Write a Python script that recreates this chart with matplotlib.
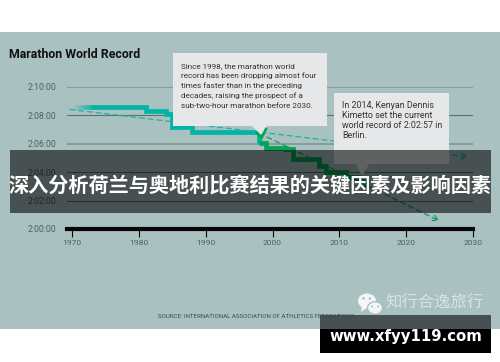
import numpy as np
import matplotlib
matplotlib.use("Agg")
import matplotlib.pyplot as plt
from matplotlib.patches import Rectangle, Polygon, Ellipse

# data
years = [1969, 1981, 1984, 1985, 1988, 1998, 1999, 2002, 2003, 2007, 2008, 2011, 2013, 2014]
records = ["2:08:34", "2:08:18", "2:08:05", "2:07:12", "2:06:50", "2:06:05", "2:05:42",
           "2:05:38", "2:04:55", "2:04:26", "2:03:59", "2:03:38", "2:03:23", "2:02:57"]
old_trend_years = [1969.7, 2029.3]
old_trend_times = ["2:08:25", "2:05:04"]
new_trend_years = [1998, 2025]
new_trend_times = ["2:06:45", "2:00:34"]
tick_years = [1970, 1980, 1990, 2000, 2010, 2020, 2030]
tick_times = ["2:00:00", "2:02:00", "2:04:00", "2:06:00", "2:08:00", "2:10:00"]

note_one = ["Since 1998, the marathon world", "record has been dropping almost four",
            "times faster than in the preceding", "decades, raising the prospect of a",
            "sub-two-hour marathon before 2030."]
note_two = ["In 2014, Kenyan Dennis", "Kimetto set the current",
            "world record of 2:02:57 in", "Berlin."]
banner = "深入分析荷兰与奥地利比赛结果的关键因素及影响因素"

BG = "#a9c1c1"
TEAL = "#00b5a5"
GREEN = "#00a651"
NOTE = "#e6e7e8"
W, H = 500, 362


def to_sec(t):
    h, m, s = t.split(":")
    return int(h) * 3600 + int(m) * 60 + int(s)


plt.rcParams["font.family"] = ["Roboto", "DejaVu Sans"]
fig = plt.figure(figsize=(W / 100, H / 100), dpi=100, facecolor="white")

# whole picture in pixels, for the page furniture
page = fig.add_axes([0, 0, 1, 1], zorder=0)
page.set_xlim(0, W)
page.set_ylim(H, 0)
page.axis("off")
page.add_patch(Rectangle((0, 32), W, 297, color=BG, lw=0))

# chart axes: 2:00:00 at y=229, 2:10:00 at y=87, 1970 at x=72, 2030 at x=473
ax = fig.add_axes([67 / W, 1 - 229 / H, 406 / W, 142 / H], zorder=1)
ax.patch.set_alpha(0)
ax.set_xlim(1970 - 5 / 6.683, 2030)
ax.set_ylim(to_sec("2:00:00"), to_sec("2:10:00"))
for s in ax.spines.values():
    s.set_visible(False)
yticks = [to_sec(t) for t in tick_times]
for i, y in enumerate(yticks):
    if i == 0:
        continue
    if tick_times[i] in ("2:10:00", "2:06:00"):
        ax.axhline(y, color="#7f9596", lw=1.2, zorder=1)
    else:
        ax.axhline(y, color="#5f7072", lw=0.8, zorder=1)
ax.axhline(yticks[0], color="#050505", lw=3, zorder=5, clip_on=False)
ax.set_yticks(yticks)
ax.set_yticklabels(tick_times, color="#555f60", fontsize=6.3)
ax.set_xticks(tick_years)
ax.set_xticklabels(tick_years, color="#555f60", fontsize=6.1)
ax.tick_params(axis="y", length=0, pad=8)
ax.tick_params(axis="x", length=5.5, width=0.8, color="#050505", pad=2.5)

secs = [to_sec(t) for t in records]
stages = [(1969, 1998, TEAL), (1998, 2014, GREEN)]
for x0, x1, col in stages:
    xs = [x for x in years if x0 <= x <= x1]
    ys = [secs[years.index(x)] for x in xs]
    ax.step(xs, ys, where="post", color=col, lw=3.4, zorder=3,
            solid_joinstyle="miter", solid_capstyle="butt")

# fade out the start of the line into the background
fade = np.zeros((1, 64, 4))
fade[..., :3] = matplotlib.colors.to_rgb(BG)
fade[..., 3] = np.clip(np.linspace(1.4, 0, 64), 0, 1)
ax.imshow(fade, extent=(1969, 1973.2, to_sec("2:08:20"), to_sec("2:08:50")),
          aspect="auto", zorder=3.5)
ax.set_xlim(1970 - 5 / 6.683, 2030)
ax.set_ylim(to_sec("2:00:00"), to_sec("2:10:00"))

ax.annotate("", xy=(old_trend_years[1], to_sec(old_trend_times[1])),
            xytext=(old_trend_years[0], to_sec(old_trend_times[0])),
            arrowprops=dict(arrowstyle="->", color="#17b5a8", lw=0.9, ls=(0, (4, 3)),
                            shrinkA=0, shrinkB=0), zorder=4)
ax.annotate("", xy=(new_trend_years[1], to_sec(new_trend_times[1])),
            xytext=(new_trend_years[0], to_sec(new_trend_times[0])),
            arrowprops=dict(arrowstyle="->", color="#0b9c63", lw=0.9, ls=(0, (4, 3)),
                            shrinkA=0, shrinkB=0), zorder=4)

# overlay with callouts, banner, watermark
top = fig.add_axes([0, 0, 1, 1], zorder=2)
top.set_xlim(0, W)
top.set_ylim(H, 0)
top.axis("off")
top.patch.set_alpha(0)

# green V peeking out round the first callout's pointer
top.plot([257, 261.5, 266], [133, 138, 129], color=GREEN, lw=1.8, solid_joinstyle="miter")
top.add_patch(Polygon([(173, 53), (327, 53), (327, 126), (267, 126), (261, 135), (252, 126), (173, 126)],
                      closed=True, color=NOTE, lw=0))
top.add_patch(Polygon([(334, 93), (449, 93), (449, 164), (369, 164), (362, 176), (356, 164), (334, 164)],
                      closed=True, color=NOTE, lw=0))
for i, s in enumerate(note_one):
    top.text(181, 66 + i * 10, s, fontsize=5.85, color="#333333", va="center")
for i, s in enumerate(note_two):
    top.text(342, 106 + i * 10, s, fontsize=6.4, color="#333333", va="center")

top.text(9, 54, "Marathon World Record", fontsize=8.95, fontweight="bold", color="#111111", va="center")
top.text(158, 316, "SOURCE: INTERNATIONAL ASSOCIATION OF ATHLETICS FEDERATIONS",
         fontsize=4.45, color="#3c4849", va="center")

top.add_patch(Rectangle((10, 150), 481, 63, color="black", alpha=0.58, lw=0))
top.text(250, 185.5, banner, fontsize=14.5, fontweight="bold", color="white", ha="center", va="center",
         family=["Noto Sans CJK SC", "DejaVu Sans"])

# wechat watermark
top.add_patch(Ellipse((367, 301), 18, 15, color="#f4f6f6", lw=0))
top.add_patch(Polygon([(362, 306), (361, 312), (368, 307)], closed=True, color="#f4f6f6", lw=0))
top.add_patch(Ellipse((375, 308), 15, 12.5, fc="#f4f6f6", ec=BG, lw=1))
top.add_patch(Ellipse((363.5, 298.5), 2.6, 2.6, color=BG, lw=0))
top.add_patch(Ellipse((370, 298.5), 2.6, 2.6, color=BG, lw=0))
top.add_patch(Ellipse((372, 306.5), 2, 2, color=BG, lw=0))
top.add_patch(Ellipse((378, 306.5), 2, 2, color=BG, lw=0))
top.text(385, 302.5, "知行合逸旅行", fontsize=11.8, color="#f2f5f5", alpha=0.65, va="center",
         family=["Noto Sans CJK SC", "DejaVu Sans"])

top.add_patch(Rectangle((320, 315), 171, 14, color="black", alpha=0.58, lw=0))
top.add_patch(Rectangle((320, 329), 171, 24, color="black", lw=0))
top.text(405.5, 337, "www.xfyy119.com", fontsize=10.7, fontweight="bold", color="white",
         ha="center", va="center", family="DejaVu Sans")

fig.savefig("out.png", dpi=100)
